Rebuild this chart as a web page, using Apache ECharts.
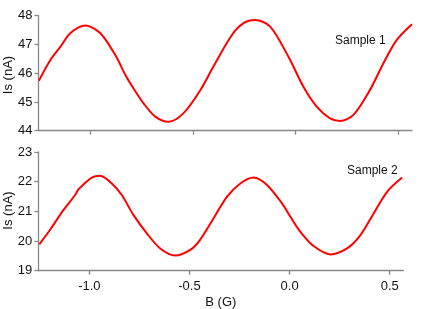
<!DOCTYPE html>
<html><head><meta charset="utf-8">
<script src="https://cdn.jsdelivr.net/npm/echarts@6/dist/echarts.min.js"></script>
<style>html,body{margin:0;padding:0;background:#fff}#c{width:436px;height:309px}</style>
</head><body><div id="c"></div>
<script>
const s1B = [-1.253,-1.197,-1.148,-1.099,-1.026,-0.953,-0.88,-0.831,-0.791,-0.742,-0.685,-0.62,-0.547,-0.466,-0.4,-0.311,-0.254,-0.197,-0.124,-0.035,0.038,0.104,0.168,0.217,0.282,0.363,0.428,0.493,0.568];
const s1I = [45.74,46.46,46.92,47.40,47.66,47.39,46.63,45.94,45.47,44.95,44.49,44.31,44.61,45.4,46.25,47.33,47.74,47.85,47.62,46.57,45.53,44.83,44.43,44.34,44.55,45.42,46.34,47.15,47.70];
const s2B = [-1.25,-1.197,-1.13,-1.071,-1.055,-1.038,-0.988,-0.946,-0.888,-0.838,-0.78,-0.713,-0.646,-0.571,-0.496,-0.446,-0.38,-0.313,-0.246,-0.18,-0.113,-0.038,0.004,0.054,0.12,0.204,0.287,0.354,0.42,0.487,0.562];
const s2I = [19.89,20.37,21.04,21.55,21.74,21.85,22.14,22.2,21.94,21.55,20.88,20.26,19.75,19.51,19.70,20.05,20.76,21.49,21.94,22.14,21.89,21.27,20.82,20.31,19.83,19.55,19.75,20.2,20.93,21.66,22.14];
const xTicks = [-1.0,-0.5,0.0,0.5];
const names = ['Sample 1','Sample 2'];
const xName = 'B (G)';
const yName = 'Is (nA)';

const font = 'Liberation Sans, Arial, sans-serif';
const axisColor = '#888';
const pair = (a,b)=>a.map((v,i)=>[v,b[i]]);
const xAxisBase = (show)=>({
  type:'value', min:-1.255, max:0.568,
  axisLine:{show:true,onZero:false,lineStyle:{color:axisColor,width:1.3}},
  axisTick:{show:true,length:4,lineStyle:{color:axisColor,width:1.3},customValues:xTicks},
  axisLabel:{show:show,color:'#111',fontSize:13,fontFamily:font,margin:9,customValues:xTicks,
    formatter:v=>v.toFixed(1)},
  splitLine:{show:false}
});
const yAxisBase = (min,max)=>({
  type:'value', min:min, max:max, interval:1,
  axisLine:{show:true,onZero:false,lineStyle:{color:axisColor,width:1.3}},
  axisTick:{show:true,length:4,lineStyle:{color:axisColor,width:1.3}},
  axisLabel:{color:'#111',fontSize:13,fontFamily:font,margin:6},
  splitLine:{show:false}
});
const chart = echarts.init(document.getElementById('c'),null,{renderer:'canvas'});
chart.setOption({
  animation:false,
  grid:[
    {left:38.5,top:15.7,width:373.5,height:115,containLabel:false,outerBoundsMode:'none'},
    {left:38.3,top:152,width:365,height:118.7,containLabel:false,outerBoundsMode:'none'}
  ],
  xAxis:[
    Object.assign(xAxisBase(false),{gridIndex:0}),
    Object.assign(xAxisBase(true),{gridIndex:1,name:xName,nameLocation:'middle',nameGap:25,
      nameTextStyle:{color:'#111',fontSize:13,fontFamily:font}})
  ],
  yAxis:[
    Object.assign(yAxisBase(44,48),{gridIndex:0}),
    Object.assign(yAxisBase(19,23),{gridIndex:1})
  ],
  series:[
    {type:'line',xAxisIndex:0,yAxisIndex:0,data:pair(s1B,s1I),smooth:0.3,showSymbol:false,
      lineStyle:{color:'#ff0000',width:2},itemStyle:{color:'#ff0000'}},
    {type:'line',xAxisIndex:1,yAxisIndex:1,data:pair(s2B,s2I),smooth:0.3,showSymbol:false,
      lineStyle:{color:'#ff0000',width:2},itemStyle:{color:'#ff0000'}}
  ],
  graphic:[
    {type:'text',x:335,y:35,style:{text:names[0],fill:'#111',font:'12px '+font}},
    {type:'text',x:347,y:165,style:{text:names[1],fill:'#111',font:'12px '+font}},
    {type:'text',x:8,y:75,rotation:Math.PI/2,style:{text:yName,fill:'#111',font:'13px '+font,align:'center',verticalAlign:'middle'}},
    {type:'text',x:8,y:210.5,rotation:Math.PI/2,style:{text:yName,fill:'#111',font:'13px '+font,align:'center',verticalAlign:'middle'}}
  ]
});
</script></body></html>
